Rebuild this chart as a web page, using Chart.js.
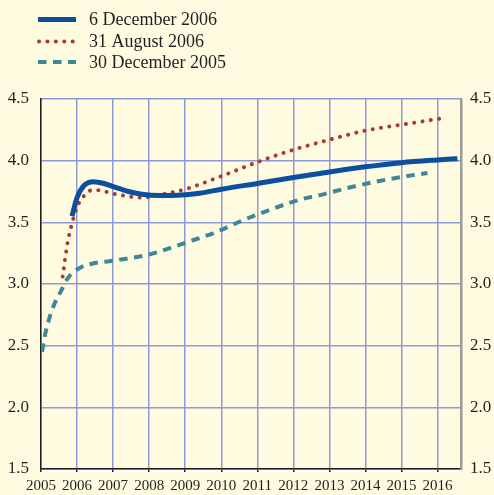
<!DOCTYPE html>
<html>
<head>
<meta charset="utf-8">
<script src="https://cdn.jsdelivr.net/npm/chart.js@4.4.0/dist/chart.umd.min.js"></script>
<style>
  html, body { margin: 0; padding: 0; background: #fffbe1; }
  #wrap { width: 494px; height: 495px; }
</style>
</head>
<body>
<div id="wrap"><canvas id="curveChart" width="494" height="495"></canvas></div>
<script>
// yield curves (year, per cent)
const xTicks = [2005, 2006, 2007, 2008, 2009, 2010, 2011, 2012, 2013, 2014, 2015, 2016];
const yTicks = [1.5, 2.0, 2.5, 3.0, 3.5, 4.0, 4.5];

const dec06Years = [2005.86, 2006.0, 2006.2, 2006.45, 2006.75, 2007.0, 2007.4, 2007.8, 2008.3, 2008.8, 2009.4, 2010, 2011, 2012, 2013, 2014, 2015, 2016, 2016.55];
const dec06Values = [3.55, 3.70, 3.80, 3.83, 3.815, 3.79, 3.752, 3.728, 3.718, 3.72, 3.736, 3.768, 3.815, 3.863, 3.908, 3.95, 3.984, 4.006, 4.016];

const aug06Years = [2005.6, 2005.74, 2005.85, 2005.98, 2006.07, 2006.19, 2006.4, 2006.63, 2006.86, 2007.09, 2007.32, 2007.55, 2007.85, 2008.1, 2008.5, 2009.0, 2010, 2011, 2012, 2013, 2014, 2015, 2016, 2016.18];
const aug06Values = [3.06, 3.34, 3.48, 3.61, 3.665, 3.713, 3.76, 3.76, 3.743, 3.727, 3.716, 3.705, 3.70, 3.713, 3.735, 3.768, 3.874, 3.988, 4.088, 4.17, 4.244, 4.292, 4.338, 4.347];

const dec05Years = [2005.03, 2005.11, 2005.22, 2005.36, 2005.55, 2005.75, 2006.07, 2006.49, 2006.9, 2007.36, 2007.82, 2008.19, 2009.0, 2009.84, 2010.62, 2011.4, 2012.23, 2012.69, 2013.47, 2014.29, 2015.17, 2015.72];
const dec05Values = [2.45, 2.585, 2.71, 2.83, 2.94, 3.05, 3.13, 3.17, 3.185, 3.205, 3.227, 3.254, 3.334, 3.419, 3.519, 3.607, 3.688, 3.717, 3.776, 3.83, 3.876, 3.90];

const seriesNames = ["6 December 2006", "31 August 2006", "30 December 2005"];

const bg = "#fffbe1";
const gridColor = "#8d9ad6";
const ink = "#231f20";
const serif = "'Liberation Serif', 'Times New Roman', serif";

const toPoints = (xs, ys) => xs.map((x, i) => ({ x: x, y: ys[i] }));

// paints the cream background and the legend at top-left
const frame = {
  id: "frame",
  beforeDraw(chart) {
    const ctx = chart.ctx;
    const area = chart.chartArea;
    ctx.save();
    ctx.fillStyle = bg;
    ctx.fillRect(0, 0, chart.width, chart.height);
    // white strip under the time axis
    ctx.strokeStyle = "#ffffff";
    ctx.lineWidth = 2;
    ctx.beginPath();
    ctx.moveTo(area.left, area.bottom + 2);
    ctx.lineTo(area.right, area.bottom + 2);
    ctx.stroke();
    ctx.restore();
  },
  afterDraw(chart) {
    const ctx = chart.ctx;
    const rows = [19.5, 41.5, 62];
    ctx.save();
    chart.data.datasets.forEach((ds, i) => {
      ctx.beginPath();
      ctx.strokeStyle = ds.borderColor;
      ctx.lineWidth = ds.borderWidth;
      ctx.lineCap = ds.borderCapStyle || "butt";
      ctx.setLineDash(ds.borderDash || []);
      ctx.moveTo(i === 1 ? 39 : 38, rows[i]);
      ctx.lineTo(76, rows[i]);
      ctx.stroke();
      ctx.setLineDash([]);
      ctx.fillStyle = ink;
      ctx.font = "18px " + serif;
      ctx.textBaseline = "middle";
      ctx.fillText(ds.label, 89, rows[i] + 1);
    });
    ctx.restore();
  },
};

new Chart(document.getElementById("curveChart"), {
  type: "line",
  data: {
    datasets: [
      {
        label: seriesNames[0],
        data: toPoints(dec06Years, dec06Values),
        borderColor: "#0c4f9e",
        borderWidth: 5,
        borderCapStyle: "butt",
        cubicInterpolationMode: "monotone",
        pointRadius: 0,
        order: 1,
      },
      {
        label: seriesNames[1],
        data: toPoints(aug06Years, aug06Values),
        borderColor: "#a93b33",
        borderWidth: 4,
        borderDash: [0.1, 8.3],
        borderCapStyle: "round",
        cubicInterpolationMode: "monotone",
        pointRadius: 0,
        order: 2,
      },
      {
        label: seriesNames[2],
        data: toPoints(dec05Years, dec05Values),
        borderColor: "#3e8799",
        borderWidth: 4,
        borderDash: [8.5, 6.5],
        borderCapStyle: "butt",
        cubicInterpolationMode: "monotone",
        pointRadius: 0,
        order: 3,
      },
    ],
  },
  options: {
    responsive: false,
    animation: false,
    layout: { padding: { top: 99, left: 0, right: 0, bottom: 0 } },
    plugins: { legend: { display: false }, tooltip: { enabled: false } },
    scales: {
      x: {
        type: "linear",
        min: 2005,
        max: 2016.65,
        afterBuildTicks: (scale) => {
          scale.ticks = xTicks.map((v) => ({ value: v }));
        },
        afterFit: (scale) => {
          scale.height = 26;
        },
        grid: { color: gridColor, lineWidth: 1.5, drawTicks: true, tickLength: 3, tickColor: ink, tickWidth: 1.5 },
        border: { color: ink, width: 1.5 },
        ticks: {
          color: ink,
          font: { family: serif, size: 15 },
          padding: 5,
          maxRotation: 0,
          autoSkip: false,
          callback: (v) => String(v),
        },
      },
      y: {
        position: "left",
        min: 1.5,
        max: 4.5,
        afterBuildTicks: (scale) => {
          scale.ticks = yTicks.map((v) => ({ value: v }));
        },
        afterFit: (scale) => {
          scale.width = 41;
        },
        grid: { color: gridColor, lineWidth: 1.5, drawTicks: false },
        border: { color: ink, width: 1.5 },
        ticks: {
          color: ink,
          font: { family: serif, size: 17 },
          padding: 12,
          callback: (v) => v.toFixed(1),
        },
      },
      y2: {
        position: "right",
        min: 1.5,
        max: 4.5,
        afterBuildTicks: (scale) => {
          scale.ticks = yTicks.map((v) => ({ value: v }));
        },
        afterFit: (scale) => {
          scale.width = 33;
        },
        grid: { display: false, drawTicks: false },
        border: { color: "#9a9a9a", width: 2.5 },
        ticks: {
          color: ink,
          font: { family: serif, size: 17 },
          padding: 9,
          callback: (v) => v.toFixed(1),
        },
      },
    },
  },
  plugins: [frame],
});
</script>
</body>
</html>
